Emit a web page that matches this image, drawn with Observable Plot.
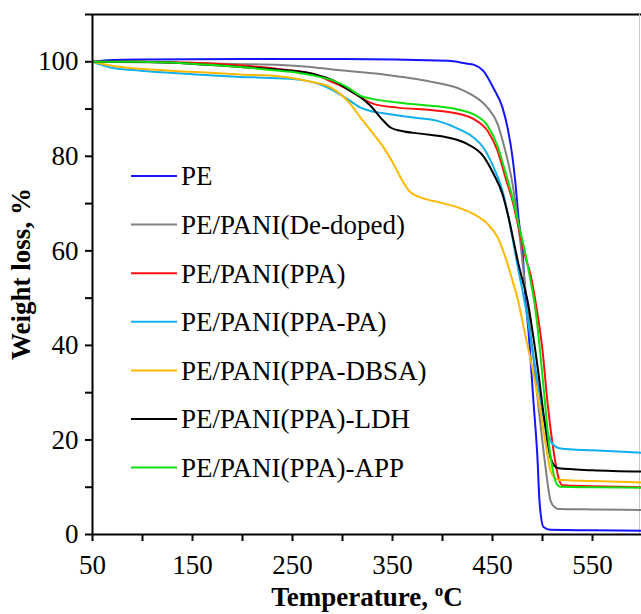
<!DOCTYPE html>
<html><head><meta charset="utf-8">
<script src="https://cdn.jsdelivr.net/npm/d3@7"></script>
<script src="https://cdn.jsdelivr.net/npm/@observablehq/plot@0.6"></script>
<style>
html,body{margin:0;padding:0;background:#fff;}
#chart svg{display:block;}
#chart svg, #chart svg text{font-family: "Liberation Serif", Tinos, "Times New Roman", Times, "DejaVu Serif", serif !important;}
</style>
</head><body><div id="chart"></div>
<script>
// Series names and colours (legend order)
const seriesNames = ["PE", "PE/PANI(De-doped)", "PE/PANI(PPA)", "PE/PANI(PPA-PA)", "PE/PANI(PPA-DBSA)", "PE/PANI(PPA)-LDH", "PE/PANI(PPA)-APP"];
const seriesColors = ["#1414ff", "#808080", "#ff1010", "#10b0f0", "#ffb800", "#000000", "#10e010"];

// [temperature °C, weight %]
const pe = [[50,100],[70,100.4],[100,100.5],[200,100.6],[300,100.6],[405,100.2],[425,99.6],[431,99.4],[441,98],[451,94.4],[460,90.3],[465,86.1],[470,79.8],[473,74.2],[476,67],[480,60],[483,50],[486,43],[491,28],[495,16],[497,7],[501,1.6],[508,1.0],[550,0.9],[600,0.8]];
const deDoped = [[50,100],[100,99.9],[150,99.7],[200,99.5],[238,99.3],[268,98.9],[288,98.4],[338,97.4],[388,95.8],[418,94.2],[431,92.8],[445,90.3],[455,86.9],[461,82.6],[466,78.4],[470,74.2],[474,68.5],[478,61.5],[484,50],[490,39],[496,27],[502,16],[508,7.2],[512,5.8],[516,5.4],[550,5.3],[600,5.2]];
const ppa = [[50,100],[100,100],[150,99.8],[200,99.2],[238,98.4],[271,97.4],[291,95.6],[305,94.2],[318,92.5],[331,91.1],[355,90.3],[388,89.8],[398,89.6],[418,88.9],[431,87.9],[445,85.4],[455,81.2],[463,75.5],[470,70.6],[476,65],[483,58.6],[488,55],[494,48],[500,39],[505,28],[511,17.8],[516,12],[520,10.4],[550,10.2],[600,10.0]];
const ppaPa = [[50,100],[68,98.8],[98,98.1],[148,97.4],[198,96.8],[238,96.5],[268,95.8],[291,93.9],[305,92.1],[318,90.3],[328,89.6],[338,89.2],[371,88.2],[395,87.5],[418,85.6],[431,84],[441,81.8],[451,77.7],[460,72.7],[466,67.1],[471,61.5],[476,55.8],[480,51.6],[484,47],[490,39],[496,31],[501,25],[505,21.6],[510,19.2],[518,18.2],[550,17.8],[600,17.3]];
const ppaDbsa = [[50,100],[68,99.2],[98,98.5],[148,97.9],[198,97.3],[238,96.9],[268,95.8],[288,94.6],[305,91.8],[318,88.2],[331,84.7],[341,81.9],[351,78.4],[360,74.8],[368,72.4],[378,71.3],[398,70.2],[418,69],[431,67.8],[445,65.7],[455,62.9],[463,58.6],[470,53.7],[475,50],[482,43],[490,35],[498,26],[504,18],[508,13.5],[512,12],[516,11.6],[550,11.3],[600,11.0]];
const ldh = [[50,100],[98,100],[148,99.6],[198,98.9],[238,98.3],[271,97.4],[291,96],[305,94.2],[318,92.5],[328,90.7],[338,88.2],[348,86.1],[358,85.4],[378,84.8],[405,84],[425,82.6],[441,80],[451,76.3],[460,72],[466,67.1],[471,62.2],[476,57.2],[481,53],[485,49.5],[490,43],[496,34],[502,24],[508,16.3],[512,14.5],[516,14],[550,13.6],[600,13.3]];
const app = [[50,100],[98,100],[148,99.6],[198,98.9],[231,98.2],[255,97.7],[268,97.2],[291,96],[305,94.6],[318,92.8],[331,92.1],[355,91.4],[388,90.7],[398,90.5],[418,89.8],[431,88.9],[445,86.5],[455,82.2],[463,76.6],[470,71.3],[476,65.7],[483,59.3],[488,53.7],[492,49],[497,40],[502,29],[506,20],[510,14],[514,10.8],[518,10.1],[550,10.0],[600,9.9]];

const xTicks = [50,100,150,200,250,300,350,400,450,500,550,600];
const xTickLabels = [50,150,250,350,450,550];
const yTicks = [0,10,20,30,40,50,60,70,80,90,100,110];
const yTickLabels = [0,20,40,60,80,100];

const seriesData = [pe, deDoped, ppa, ppaPa, ppaDbsa, ldh, app];
const rows = [];
seriesData.forEach((arr, i) => arr.forEach(([t, w]) => rows.push({series: seriesNames[i], t, w})));

const FONT = "\"Liberation Serif\", Tinos, \"Times New Roman\", Times, \"DejaVu Serif\", serif";

const chart = Plot.plot({
  width: 641, height: 614,
  marginLeft: 92, marginRight: 0, marginTop: 14, marginBottom: 80,
  x: {domain: [50, 599]},
  y: {domain: [0, 110]},
  color: {domain: seriesNames, range: seriesColors},
  style: {fontFamily: FONT, fontSize: "27px", color: "#000", background: "#fff", overflow: "visible"},
  marks: [
    Plot.axisX({ticks: xTicks, tickFormat: d => xTickLabels.includes(d) ? String(d) : "", tickSize: 7, tickPadding: 13, label: null, strokeWidth: 2}),
    Plot.axisY({ticks: yTicks, tickFormat: d => yTickLabels.includes(d) ? String(d) : "", tickSize: 7, tickPadding: 7, label: null, strokeWidth: 2}),
    Plot.ruleY([110], {stroke: "#000", strokeWidth: 2}),
    Plot.ruleX([597], {stroke: "#c8c8c8", strokeWidth: 1}),
    Plot.line(rows, {x: "t", y: "w", stroke: "series", z: "series", curve: "monotone-x", strokeWidth: 2}),
    Plot.ruleY([0], {stroke: "#000", strokeWidth: 2}),
    Plot.ruleX([50], {stroke: "#000", strokeWidth: 2})
  ]
});
document.getElementById("chart").appendChild(chart);

const svg = d3.select(chart);

// Legend (inside plot area)
const lg = svg.append("g").attr("font-size", 27).attr("text-anchor", "start");
seriesNames.forEach((name, i) => {
  const y = 176 + i * 48.6;
  lg.append("line").attr("x1", 131).attr("x2", 177).attr("y1", y).attr("y2", y)
    .attr("stroke", seriesColors[i]).attr("stroke-width", 2);
  lg.append("text").attr("x", 181).attr("y", y).attr("dy", "0.35em").attr("text-anchor", "start").attr("fill", "#000").text(name);
});

// Axis titles
svg.append("text")
  .attr("transform", "translate(30,274) rotate(-90)")
  .attr("text-anchor", "middle").attr("font-size", 27).attr("font-weight", "bold")
  .attr("fill", "#000").text("Weight loss, %");

const xt = svg.append("text")
  .attr("x", 367).attr("y", 606)
  .attr("text-anchor", "middle").attr("font-size", 27).attr("font-weight", "bold")
  .attr("fill", "#000");
xt.append("tspan").text("Temperature, ");
xt.append("tspan").attr("font-size", 17).attr("dy", -10).text("o");
xt.append("tspan").attr("dy", 10).text("C");
</script>
</body></html>
